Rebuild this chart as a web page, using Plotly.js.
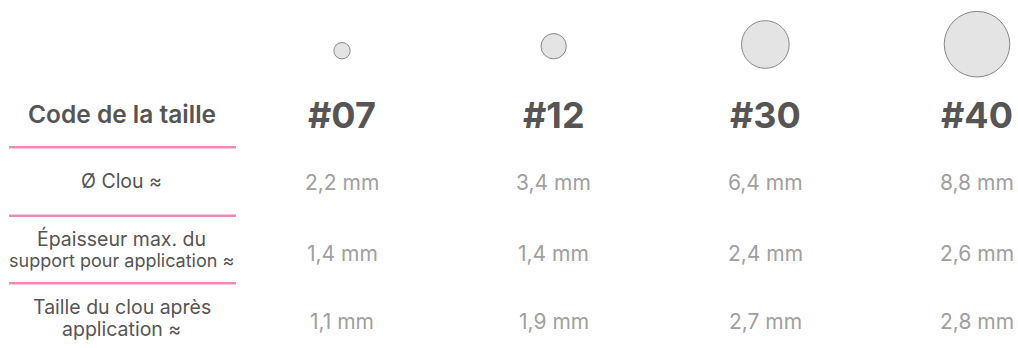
<!DOCTYPE html>
<html>
<head>
<meta charset="utf-8">
<script src="https://cdn.plot.ly/plotly-3.0.1.min.js"></script>
<style>html,body{margin:0;padding:0;background:#fff;}#chart{width:1018px;height:348px;}</style>
</head>
<body>
<div id="chart"></div>
<script>
// ---- Data ----
const codes = ['#07', '#12', '#30', '#40'];
const headerLabel = 'Code de la taille';
const rowLabels = [
  ['Ø Clou ≈'],
  ['Épaisseur max. du', 'support pour application ≈'],
  ['Taille du clou après', 'application ≈']
];
const diameterMm = [2.2, 3.4, 6.4, 8.8];
const thicknessMm = [1.4, 1.4, 2.4, 2.6];
const lengthAfterMm = [1.1, 1.9, 2.7, 2.8];

// ---- Layout constants ----
const colIdx = codes.map((_, i) => i);
const circleY = [50.7, 46.2, 44.5, 44.2];
const headerY = 115;
const headerLabelY = 113.7;
const rowY = [182.5, 253, 321];
const labelLineY = [[181], [238.3, 260], [306.8, 329]];
const labelLineSize = [[19.5], [19.5, 18], [19.5, 19.5]];
const lineY = [147.3, 215.7, 283.3];
const labelX = -1.04;
const pxPerMm = 7.45;
const FONT = 'Inter';

const fmt = v => v.toFixed(1).replace('.', ',') + ' mm';
const rows = [diameterMm, thicknessMm, lengthAfterMm];

const traces = [{
  type: 'scatter', mode: 'markers',
  x: colIdx, y: circleY,
  marker: {
    size: diameterMm, sizemode: 'diameter', sizeref: 1 / pxPerMm,
    color: '#d9d9d9', line: {color: '#555555', width: 1}, symbol: 'circle'
  },
  hoverinfo: 'skip', showlegend: false
}];

const annotations = [];
annotations.push({x: labelX, y: headerLabelY, text: headerLabel, showarrow: false,
  font: {family: FONT, size: 24.5, color: '#555555', weight: 600}, xanchor: 'center', yanchor: 'middle'});
codes.forEach((c, i) => annotations.push({x: i, y: headerY, text: c, showarrow: false,
  font: {family: FONT, size: 36, color: '#555555', weight: 700}, xanchor: 'center', yanchor: 'middle'}));
rowLabels.forEach((lines, r) => lines.forEach((t, k) => annotations.push({x: labelX, y: labelLineY[r][k], text: t, showarrow: false,
  font: {family: FONT, size: labelLineSize[r][k], color: '#555555'}, xanchor: 'center', yanchor: 'middle'})));
rows.forEach((vals, r) => vals.forEach((v, i) => annotations.push({x: i, y: rowY[r], text: fmt(v), showarrow: false,
  font: {family: FONT, size: 21, color: '#a0a0a0', weight: 400}, xanchor: 'center', yanchor: 'middle'})));

const shapes = lineY.map(y => ({type: 'line', xref: 'paper', yref: 'y', x0: 9 / 1018, x1: 236 / 1018, y0: y, y1: y,
  line: {color: '#f08ab4', width: 2.6}}));

const layout = {
  width: 1018, height: 348,
  margin: {l: 0, r: 0, t: 0, b: 0},
  paper_bgcolor: '#ffffff', plot_bgcolor: '#ffffff',
  xaxis: {range: [-342 / 211.67, (1018 - 342) / 211.67], visible: false, fixedrange: true},
  yaxis: {range: [348, 0], visible: false, fixedrange: true},
  annotations: annotations, shapes: shapes, showlegend: false
};
Plotly.newPlot('chart', traces, layout, {displayModeBar: false, staticPlot: true});
</script>
</body>
</html>
